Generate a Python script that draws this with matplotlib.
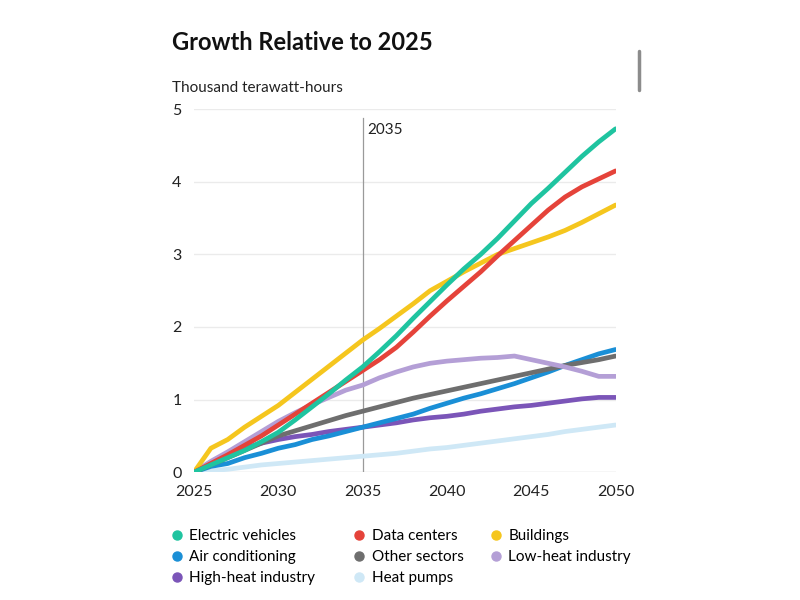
import matplotlib
matplotlib.use("Agg")
import matplotlib.pyplot as plt
from matplotlib.lines import Line2D

plt.rcParams['font.family'] = ['Lato', 'DejaVu Sans']

years = list(range(2025, 2051))

electric_vehicles = [0, 0.10, 0.20, 0.30, 0.42, 0.55, 0.72, 0.90, 1.08, 1.27, 1.45, 1.66, 1.88, 2.12, 2.35, 2.58,
                     2.80, 3.00, 3.22, 3.46, 3.70, 3.91, 4.13, 4.35, 4.55, 4.73]
data_centers = [0, 0.12, 0.24, 0.37, 0.50, 0.65, 0.80, 0.95, 1.10, 1.25, 1.40, 1.55, 1.72, 1.93, 2.15, 2.36,
                2.56, 2.76, 2.98, 3.19, 3.40, 3.61, 3.79, 3.93, 4.04, 4.15]
buildings = [0, 0.33, 0.45, 0.62, 0.77, 0.92, 1.10, 1.28, 1.46, 1.64, 1.82, 1.98, 2.15, 2.32, 2.50, 2.63,
             2.76, 2.88, 3.00, 3.08, 3.16, 3.24, 3.33, 3.44, 3.56, 3.68]
air_conditioning = [0, 0.08, 0.12, 0.20, 0.26, 0.33, 0.38, 0.45, 0.50, 0.56, 0.62, 0.68, 0.74, 0.80, 0.88, 0.95,
                    1.02, 1.08, 1.15, 1.22, 1.30, 1.38, 1.47, 1.55, 1.63, 1.69]
other_sectors = [0, 0.10, 0.20, 0.30, 0.40, 0.50, 0.57, 0.64, 0.71, 0.78, 0.84, 0.90, 0.96, 1.02, 1.07, 1.12,
                 1.17, 1.22, 1.27, 1.32, 1.37, 1.42, 1.47, 1.51, 1.55, 1.60]
low_heat_industry = [0, 0.15, 0.28, 0.42, 0.56, 0.70, 0.82, 0.93, 1.03, 1.13, 1.20, 1.30, 1.38, 1.45, 1.50, 1.53,
                     1.55, 1.57, 1.58, 1.60, 1.55, 1.50, 1.45, 1.39, 1.32, 1.32]
high_heat_industry = [0, 0.13, 0.23, 0.33, 0.40, 0.45, 0.49, 0.52, 0.56, 0.59, 0.62, 0.65, 0.68, 0.72, 0.75, 0.77,
                      0.80, 0.84, 0.87, 0.90, 0.92, 0.95, 0.98, 1.01, 1.03, 1.03]
heat_pumps = [0, 0.02, 0.04, 0.07, 0.10, 0.12, 0.14, 0.16, 0.18, 0.20, 0.22, 0.24, 0.26, 0.29, 0.32, 0.34,
              0.37, 0.40, 0.43, 0.46, 0.49, 0.52, 0.56, 0.59, 0.62, 0.65]

# legend columns, top to bottom
legend_cols = [
  [("Electric vehicles", electric_vehicles, "#1fc4a0"),
   ("Air conditioning", air_conditioning, "#1a8fd6"),
   ("High-heat industry", high_heat_industry, "#7b55b8")],
  [("Data centers", data_centers, "#e5433a"),
   ("Other sectors", other_sectors, "#6e6e6e"),
   ("Heat pumps", heat_pumps, "#cfe8f6")],
  [("Buildings", buildings, "#f5c61e"),
   ("Low-heat industry", low_heat_industry, "#b49fd6")],
]
draw_order = ["Heat pumps", "High-heat industry", "Air conditioning", "Other sectors", "Low-heat industry",
              "Buildings", "Data centers", "Electric vehicles"]

fig = plt.figure(figsize=(8, 6), dpi=100)
ax = fig.add_axes([0.2425, 0.213, 0.527, 0.605])

lookup = {name: (vals, col) for column in legend_cols for name, vals, col in column}
for name in draw_order:
  vals, col = lookup[name]
  ax.plot(years, vals, color=col, lw=3.4, solid_capstyle='round', solid_joinstyle='round', zorder=3)

ax.set_xlim(2025, 2050)
ax.set_ylim(0, 5)
ax.set_xticks([2025, 2030, 2035, 2040, 2045, 2050])
ax.set_yticks([0, 1, 2, 3, 4, 5])
ax.tick_params(length=0, labelsize=11.5, colors="#222222")
ax.tick_params(axis='y', pad=9)
ax.tick_params(axis='x', pad=9)
ax.grid(axis='y', color="#ebebeb", lw=1)
ax.set_axisbelow(True)
for s in ax.spines.values():
  s.set_visible(False)
ax.axhline(0, color="#e6e6e6", lw=1, zorder=1)

ax.axvline(2035, ymin=0, ymax=0.975, color="#9a9a9a", lw=0.9, zorder=2)
ax.text(2035.25, 4.72, "2035", fontsize=11, color="#222222", va='center', ha='left')

fig.text(0.215, 0.93, "Growth Relative to 2025", fontsize=17, fontweight='bold', color="#111111", va='center')
fig.text(0.215, 0.853, "Thousand terawatt-hours", fontsize=11, color="#222222", va='center')

# scrollbar on the right edge of the screenshot
fig.add_artist(Line2D([0.799, 0.799], [0.85, 0.915], color="#8c8c8c", lw=2.5, solid_capstyle='round'))

col_x = [0.204, 0.432, 0.603]
for cx, column in zip(col_x, legend_cols):
  handles = [Line2D([], [], marker='o', ls='', color=col, markersize=6.5) for _, _, col in column]
  labels = [name for name, _, _ in column]
  fig.legend(handles, labels, ncol=1, loc='upper left', bbox_to_anchor=(cx, 0.128),
             frameon=False, fontsize=11, handletextpad=0.3,
             labelspacing=0.45, borderaxespad=0, handlelength=1.0)

fig.savefig("out.png", dpi=100, facecolor="white")
